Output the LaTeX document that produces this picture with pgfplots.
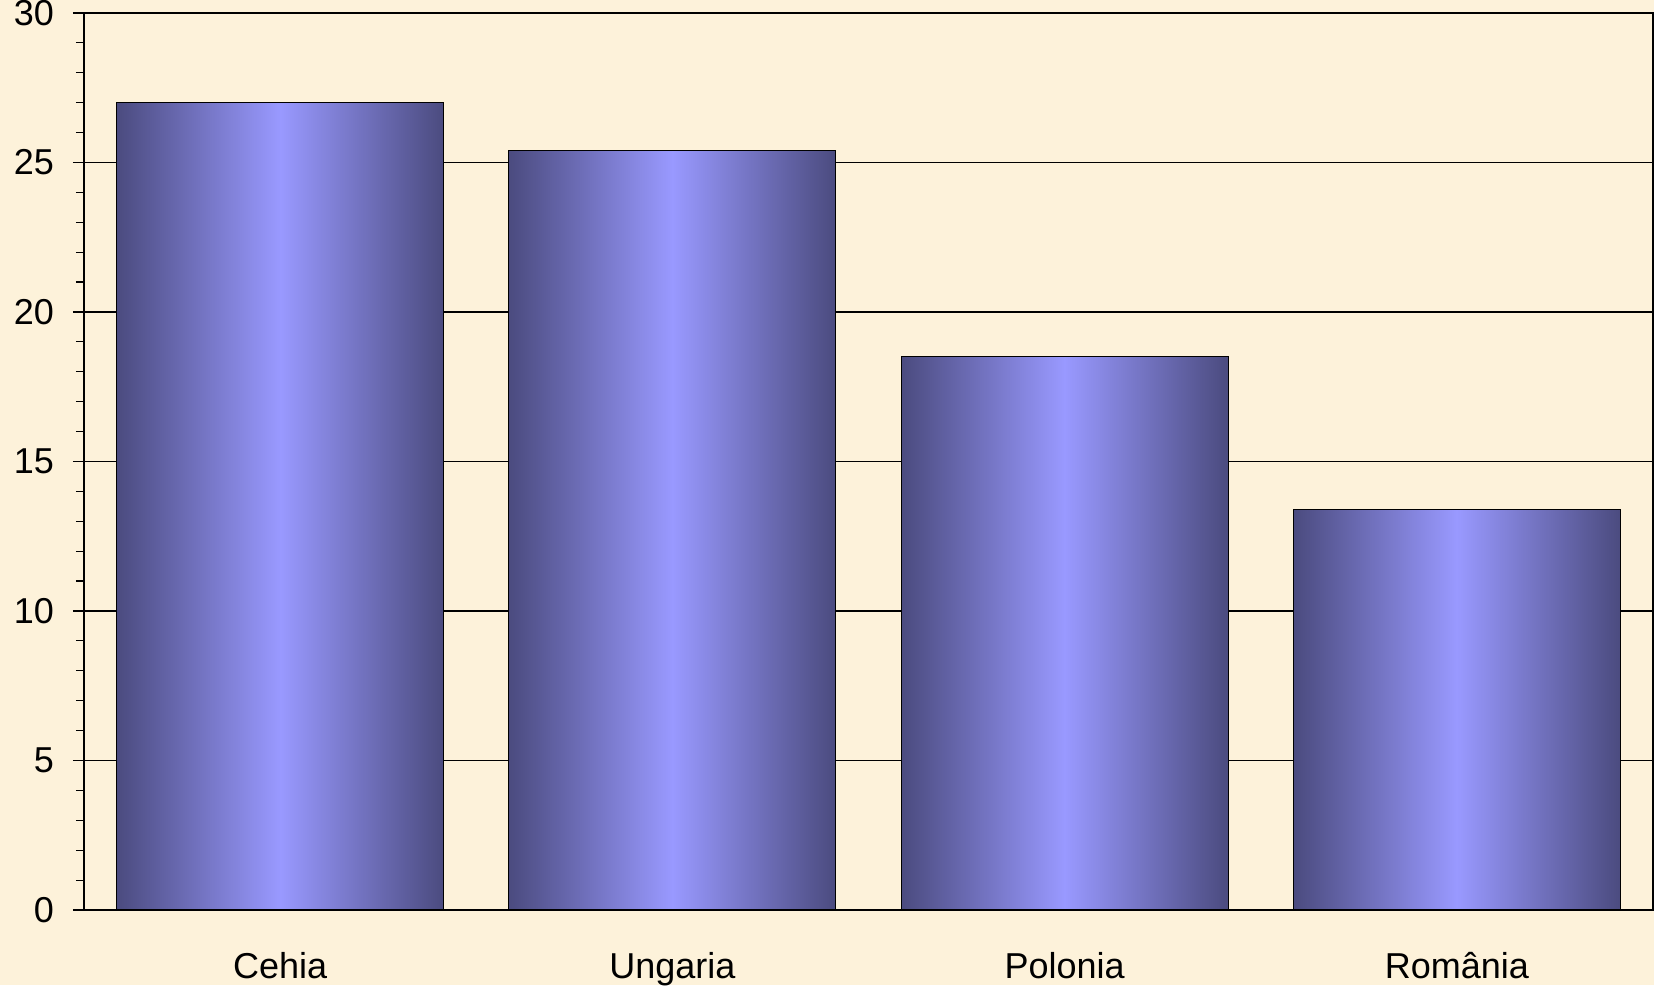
\documentclass[border=0pt]{standalone}
\usepackage{pgfplots}
\pgfplotsset{compat=1.18}
\usepackage{fontspec}
\setmainfont{Liberation Sans}
\definecolor{bg}{RGB}{253,242,218}
\definecolor{bardark}{RGB}{75,75,127}
\definecolor{barlight}{RGB}{153,153,255}
\tikzset{barstyle/.style={ybar, bar width=163.5pt, bar shift=0pt,
    draw=black, line width=0.6pt, mark=none,
    left color=bardark, right color=bardark, middle color=barlight}}
\begin{document}
\begin{tikzpicture}
\path[fill=bg, use as bounding box] (-42pt,-37.5pt) rectangle (785pt,455pt);
\begin{axis}[
  at={(0,0)}, anchor=south west,
  scale only axis, width=784.5pt, height=448.5pt,
  xmin=-0.5, xmax=3.5, ymin=0, ymax=30,
  xtick={0,1,2,3},
  xticklabels={Cehia,Ungaria,Polonia,România},
  ytick={0,5,...,30},
  minor y tick num=4,
  ymajorgrids, major grid style={black, line width=0.7pt},
  axis line style={black, line width=0.8pt},
  tick align=outside,
  ytick pos=left, xtick pos=bottom,
  x tick style={draw=none},
  major tick length=5.5pt, minor tick length=4pt,
  y tick style={black, line width=0.6pt},
  tick label style={font=\fontsize{18}{21}\selectfont},
  xticklabel style={yshift=-12pt},
  yticklabel style={xshift=-6pt},
  /pgf/number format/assume math mode=true,
  axis background/.style={fill=none},
]
\addplot[barstyle] coordinates {(0,27.0)};
\addplot[barstyle] coordinates {(1,25.4)};
\addplot[barstyle] coordinates {(2,18.5)};
\addplot[barstyle] coordinates {(3,13.4)};
\end{axis}
\end{tikzpicture}
\end{document}
